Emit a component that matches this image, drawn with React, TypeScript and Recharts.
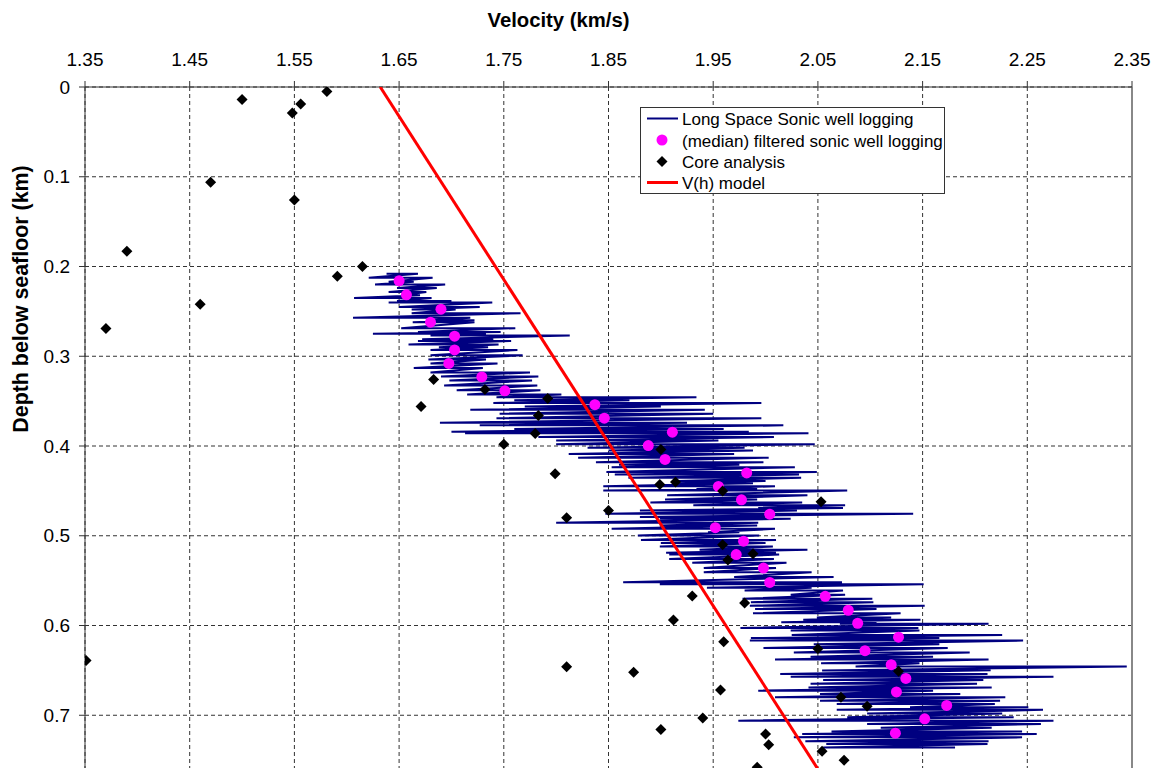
import React from "react";
import { ScatterChart, Scatter, XAxis, YAxis, CartesianGrid, ReferenceLine } from "recharts";

const FONT = '"Liberation Sans", Arial, Helvetica, sans-serif';

const velocityTicks = [1.35, 1.45, 1.55, 1.65, 1.75, 1.85, 1.95, 2.05, 2.15, 2.25, 2.35];
const depthTicks = [0, 0.1, 0.2, 0.3, 0.4, 0.5, 0.6, 0.7];

// long space sonic log: [depth km, left swing km/s, right swing km/s]
const sonicRows: [number, number, number][] = [
  [0.208, 1.638, 1.668], [0.2125, 1.621, 1.682], [0.217, 1.64, 1.664], [0.22, 1.627, 1.694],
  [0.224, 1.648, 1.686], [0.2285, 1.64, 1.676], [0.232, 1.652, 1.67], [0.235, 1.607, 1.681],
  [0.2385, 1.648, 1.7], [0.24, 1.64, 1.739], [0.245, 1.65, 1.727], [0.248, 1.662, 1.704],
  [0.252, 1.662, 1.766], [0.257, 1.606, 1.718], [0.26, 1.68, 1.722], [0.262, 1.663, 1.722],
  [0.2687, 1.652, 1.761], [0.273, 1.668, 1.747], [0.275, 1.625, 1.733], [0.277, 1.68, 1.813],
  [0.281, 1.672, 1.74], [0.283, 1.668, 1.757], [0.287, 1.659, 1.745], [0.29, 1.688, 1.735],
  [0.293, 1.68, 1.763], [0.299, 1.68, 1.768], [0.3036, 1.678, 1.733], [0.308, 1.68, 1.744],
  [0.313, 1.664, 1.73], [0.318, 1.68, 1.775], [0.3225, 1.69, 1.783], [0.327, 1.698, 1.777],
  [0.3326, 1.693, 1.782], [0.338, 1.705, 1.785], [0.3426, 1.715, 1.805], [0.3456, 1.743, 1.934],
  [0.349, 1.76, 1.87], [0.352, 1.74, 1.996], [0.356, 1.77, 1.9], [0.3597, 1.718, 1.942],
  [0.364, 1.746, 1.95], [0.369, 1.743, 1.996], [0.374, 1.689, 1.925], [0.377, 1.727, 2.017],
  [0.381, 1.76, 1.96], [0.384, 1.7, 1.984], [0.3857, 1.713, 2.041], [0.39, 1.783, 2.008],
  [0.394, 1.8, 1.955], [0.398, 1.8, 2.047], [0.402, 1.83, 1.98], [0.405, 1.85, 1.988],
  [0.409, 1.812, 1.97], [0.413, 1.821, 2.003], [0.418, 1.838, 1.998], [0.421, 1.86, 1.975],
  [0.4236, 1.853, 2.028], [0.429, 1.848, 2.049], [0.4318, 1.856, 2.032], [0.4355, 1.869, 2.034],
  [0.439, 1.915, 2.0], [0.4415, 1.915, 1.988], [0.4448, 1.845, 2.009], [0.448, 1.934, 1.992],
  [0.4496, 1.845, 2.078], [0.455, 1.906, 2.04], [0.4597, 1.904, 1.992], [0.463, 1.89, 2.035],
  [0.466, 1.931, 2.076], [0.469, 1.993, 2.074], [0.472, 1.88, 2.03], [0.4756, 1.847, 2.141],
  [0.479, 1.88, 2.0], [0.481, 1.899, 2.024], [0.4856, 1.8, 1.993], [0.4886, 1.899, 1.992],
  [0.4923, 1.853, 2.009], [0.496, 1.945, 1.975], [0.4998, 1.878, 1.994], [0.5046, 1.881, 2.01],
  [0.508, 1.9, 2.0], [0.512, 1.899, 2.007], [0.5157, 1.937, 2.04], [0.519, 1.905, 2.01],
  [0.521, 1.908, 2.013], [0.526, 1.908, 2.008], [0.53, 1.93, 2.02], [0.5358, 1.941, 2.01],
  [0.5407, 1.941, 2.044], [0.546, 1.97, 2.065], [0.5518, 1.864, 2.073], [0.554, 1.899, 2.151],
  [0.558, 1.944, 2.044], [0.561, 1.98, 2.074], [0.5656, 2.024, 2.076], [0.5703, 1.978, 2.102],
  [0.574, 1.986, 2.103], [0.578, 1.985, 2.152], [0.5815, 1.99, 2.106], [0.5864, 1.988, 2.129],
  [0.591, 2.049, 2.12], [0.5937, 2.036, 2.148], [0.5964, 2.015, 2.106], [0.598, 2.071, 2.213],
  [0.6027, 1.976, 2.146], [0.6057, 2.024, 2.147], [0.6105, 2.025, 2.226], [0.614, 1.986, 2.166],
  [0.6168, 1.985, 2.246], [0.621, 2.046, 2.166], [0.625, 1.998, 2.174], [0.63, 2.027, 2.195],
  [0.6347, 2.043, 2.16], [0.638, 2.009, 2.213], [0.642, 2.053, 2.147], [0.6458, 2.086, 2.345],
  [0.65, 2.054, 2.215], [0.654, 2.014, 2.212], [0.657, 2.024, 2.275], [0.6607, 2.055, 2.208],
  [0.665, 2.043, 2.202], [0.669, 2.041, 2.216], [0.6726, 1.993, 2.16], [0.6763, 2.052, 2.186],
  [0.68, 2.009, 2.229], [0.6838, 2.052, 2.224], [0.6875, 2.068, 2.219], [0.691, 2.138, 2.251],
  [0.694, 2.068, 2.265], [0.698, 2.097, 2.226], [0.7023, 2.078, 2.237], [0.706, 1.974, 2.275],
  [0.7097, 2.097, 2.263], [0.714, 2.11, 2.216], [0.718, 2.063, 2.245], [0.721, 2.035, 2.259],
  [0.7246, 2.027, 2.245], [0.729, 2.038, 2.213], [0.732, 2.058, 2.212], [0.7358, 2.055, 2.181],
];

// (median) filtered sonic: [velocity, depth]
const medianFiltered: [number, number][] = [
  [1.65, 0.216], [1.657, 0.2315], [1.69, 0.2475], [1.68, 0.262], [1.703, 0.2776], [1.703, 0.293],
  [1.6975, 0.308], [1.729, 0.323], [1.751, 0.3385], [1.837, 0.354], [1.846, 0.369], [1.911, 0.3846],
  [1.888, 0.3995], [1.904, 0.415], [1.982, 0.43], [1.955, 0.445], [1.977, 0.46], [2.004, 0.476],
  [1.952, 0.491], [1.979, 0.506], [1.972, 0.521], [1.998, 0.536], [2.004, 0.552], [2.057, 0.5675],
  [2.079, 0.583], [2.088, 0.5975], [2.127, 0.613], [2.095, 0.628], [2.12, 0.6436], [2.134, 0.659],
  [2.125, 0.674], [2.173, 0.689], [2.152, 0.704], [2.124, 0.72],
];

// core analysis: [velocity, depth]
const coreAnalysis: [number, number][] = [
  [1.5, 0.014], [1.548, 0.029], [1.556, 0.019], [1.581, 0.005], [1.47, 0.106], [1.55, 0.126],
  [1.39, 0.183], [1.591, 0.211], [1.615, 0.2], [1.46, 0.242], [1.37, 0.269], [1.683, 0.326],
  [1.671, 0.356], [1.732, 0.337], [1.792, 0.347], [1.783, 0.366], [1.78, 0.386], [1.75, 0.398],
  [1.799, 0.431], [1.9, 0.404], [1.899, 0.443], [1.914, 0.44], [1.959, 0.45], [2.053, 0.462],
  [1.85, 0.472], [1.81, 0.48], [1.959, 0.51], [1.988, 0.52], [1.964, 0.527], [1.93, 0.567],
  [1.98, 0.575], [1.912, 0.594], [1.96, 0.618], [2.05, 0.626], [1.351, 0.639], [1.81, 0.646],
  [1.874, 0.652], [2.127, 0.651], [1.957, 0.672], [2.072, 0.68], [2.097, 0.69], [1.94, 0.703],
  [1.9, 0.716], [2.0, 0.721], [2.003, 0.733], [2.054, 0.74], [2.075, 0.75], [1.992, 0.758],
];

// V(h) model
const modelLine: [number, number][] = [[1.632, 0], [2.072, 0.8]];

const toPoints = (rows: [number, number][]) => rows.map(([v, d]) => ({ v, d }));
const sonicData = sonicRows.flatMap(([d, a, b]) => [{ v: a, d }, { v: b, d }]);

const NoDot = () => <g />;

function Diamond(props: any) {
  const { cx, cy } = props;
  if (cx == null || cy == null) return <g />;
  const r = 5.5;
  return (
    <polygon
      points={`${cx},${cy - r} ${cx + r},${cy} ${cx},${cy + r} ${cx - r},${cy}`}
      fill="#000"
    />
  );
}

function Dot(props: any) {
  const { cx, cy } = props;
  if (cx == null || cy == null) return <g />;
  return <circle cx={cx} cy={cy} r={5.5} fill="#FF00FF" />;
}

const tickStyle = { fill: "#000", fontSize: 19, fontFamily: FONT };

export default function App() {
  return (
    <div
      style={{
        position: "fixed", top: 0, left: 0, width: 1156, height: 768,
        overflow: "hidden", background: "#fff", fontFamily: FONT,
      }}
    >
      <ScatterChart width={1156} height={805} margin={{ top: 57, right: 24, bottom: 0, left: 0 }}>
        <CartesianGrid stroke="#333" strokeDasharray="4 3" />
        <XAxis
          type="number"
          dataKey="v"
          orientation="top"
          domain={[1.35, 2.35]}
          ticks={velocityTicks}
          allowDataOverflow
          height={30}
          tickSize={6}
          tickMargin={15}
          tickFormatter={(t: number) => t.toFixed(2)}
          tick={tickStyle}
          stroke="#333"
        />
        <YAxis
          type="number"
          dataKey="d"
          reversed
          domain={[0, 0.8]}
          ticks={depthTicks}
          allowDataOverflow
          width={85}
          tickSize={6}
          tickMargin={9}
          tickFormatter={(t: number) => (t === 0 ? "0" : t.toFixed(1))}
          tick={tickStyle}
          stroke="#333"
        />
        <ReferenceLine x={2.35} stroke="#888" strokeWidth={2} />
        <Scatter
          name="Long Space Sonic well logging"
          data={sonicData}
          line={{ stroke: "#000080", strokeWidth: 2 }}
          lineType="joint"
          shape={NoDot}
          isAnimationActive={false}
        />
        <Scatter
          name="(median) filtered sonic well logging"
          data={toPoints(medianFiltered)}
          shape={Dot}
          isAnimationActive={false}
        />
        <Scatter
          name="Core analysis"
          data={toPoints(coreAnalysis)}
          shape={Diamond}
          isAnimationActive={false}
        />
        <Scatter
          name="V(h) model"
          data={toPoints(modelLine)}
          line={{ stroke: "#FF0000", strokeWidth: 3 }}
          lineType="joint"
          shape={NoDot}
          isAnimationActive={false}
        />
      </ScatterChart>

      <svg
        width={1156}
        height={768}
        style={{ position: "absolute", top: 0, left: 0, pointerEvents: "none" }}
        fontFamily={FONT}
      >
        <text x={558.5} y={26.7} textAnchor="middle" fontSize={20.3} fontWeight="bold" fill="#000">
          Velocity (km/s)
        </text>
        <text
          x={28}
          y={299}
          transform="rotate(-90 28 299)"
          textAnchor="middle"
          fontSize={21.4}
          fontWeight="bold"
          fill="#000"
        >
          Depth below seafloor (km)
        </text>

        <rect x={640.5} y={107.5} width={304} height={86} fill="#fff" stroke="#333" strokeWidth={1} />
        <line x1={647} x2={678} y1={118.5} y2={118.5} stroke="#000080" strokeWidth={2} />
        <text x={682} y={125} fontSize={17} fill="#000">Long Space Sonic well logging</text>
        <circle cx={662} cy={140} r={5.5} fill="#FF00FF" />
        <text x={682} y={146.5} fontSize={17} fill="#000">(median) filtered sonic well logging</text>
        <polygon points="662,156 667.5,161.5 662,167 656.5,161.5" fill="#000" />
        <text x={682} y={168} fontSize={17} fill="#000">Core analysis</text>
        <line x1={647} x2={678} y1={182.5} y2={182.5} stroke="#FF0000" strokeWidth={3} />
        <text x={682} y={188.5} fontSize={17} fill="#000">V(h) model</text>
      </svg>
    </div>
  );
}
